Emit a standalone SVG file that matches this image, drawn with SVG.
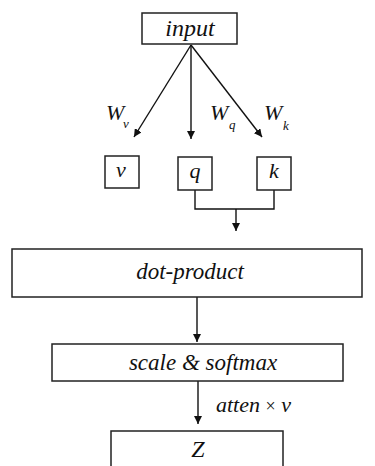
<svg xmlns="http://www.w3.org/2000/svg" width="375" height="466" viewBox="0 0 375 466">
<defs>
<marker id="ah" viewBox="0 0 10 10" refX="10" refY="5" markerWidth="8" markerHeight="8" markerUnits="userSpaceOnUse" orient="auto">
<path d="M0,0 L10,5 L0,10 z" fill="#111"/>
</marker>
<style>
.box{fill:#fff;stroke:#222;stroke-width:1.5}
.t{font-family:"Liberation Serif","Times New Roman",serif;font-style:italic;fill:#111;text-anchor:middle}
.s{text-anchor:start}
.ln{fill:none;stroke:#111;stroke-width:1.4}
.ar{fill:none;stroke:#111;stroke-width:1.4;marker-end:url(#ah)}
</style>
</defs>
<rect width="375" height="466" fill="#fff"/>
<g id="connectors">
<line class="ar" x1="191" y1="45" x2="134" y2="137"/>
<line class="ar" x1="191" y1="45" x2="191" y2="139"/>
<line class="ar" x1="191" y1="45" x2="262" y2="137"/>
<polyline class="ln" points="195,190 195,209 274,209 274,190"/>
<line class="ar" x1="236" y1="209" x2="236" y2="231"/>
<line class="ar" x1="197" y1="297" x2="197" y2="342"/>
<line class="ar" x1="198" y1="381" x2="198" y2="424"/>
</g>
<g id="labels">
<text class="t s" x="106" y="120" font-size="22">W</text>
<text class="t s" x="123" y="128" font-size="13">v</text>
<text class="t s" x="210" y="120" font-size="22">W</text>
<text class="t s" x="229" y="129" font-size="13">q</text>
<text class="t s" x="264" y="120" font-size="22">W</text>
<text class="t s" x="283" y="130" font-size="13">k</text>
<text class="t s" x="216" y="412" font-size="22">atten <tspan font-style="normal" font-size="18">×</tspan> v</text>
</g>
<g id="input"><rect class="box" x="142" y="13" width="95" height="31"/><text class="t" x="190" y="36" font-size="24">input</text></g>
<g id="v"><rect class="box" x="105" y="156" width="34" height="32"/><text class="t" x="121" y="177" font-size="22">v</text></g>
<g id="q"><rect class="box" x="178" y="157" width="34" height="33"/><text class="t" x="195" y="178" font-size="22">q</text></g>
<g id="k"><rect class="box" x="257" y="157" width="34" height="33"/><text class="t" x="274" y="178" font-size="22">k</text></g>
<g id="dot-product"><rect class="box" x="12" y="249" width="350" height="48"/><text class="t" x="190" y="279" font-size="23">dot-product</text></g>
<g id="scale-softmax"><rect class="box" x="52" y="344" width="291" height="37"/><text class="t" x="203" y="370" font-size="23">scale &amp; softmax</text></g>
<g id="Z"><rect class="box" x="111" y="431" width="172" height="40"/><text class="t" x="198" y="457" font-size="24">Z</text></g>
</svg>
